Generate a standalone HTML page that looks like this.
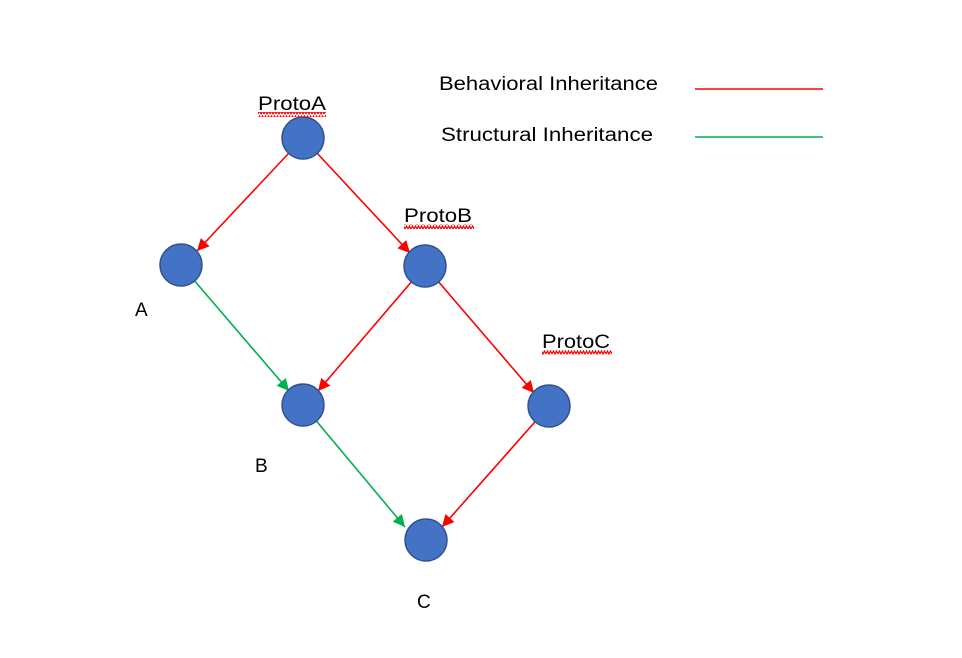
<!DOCTYPE html>
<html><head><meta charset="utf-8"><style>
html,body{margin:0;padding:0;background:#fff;}
svg{display:block}
text{font-family:"Liberation Sans",sans-serif;font-size:19px;fill:#000}
</style></head><body>
<svg width="962" height="658" viewBox="0 0 962 658" xmlns="http://www.w3.org/2000/svg">
<defs>
<marker id="ar" viewBox="0 0 10 10" refX="10" refY="5" markerWidth="13" markerHeight="12" markerUnits="userSpaceOnUse" orient="auto"><path d="M0,0 L10,5 L0,10 z" fill="#FF0000"/></marker>
<marker id="ag" viewBox="0 0 10 10" refX="10" refY="5" markerWidth="13" markerHeight="12" markerUnits="userSpaceOnUse" orient="auto"><path d="M0,0 L10,5 L0,10 z" fill="#00B050"/></marker>
<pattern id="wv" width="6" height="5" patternUnits="userSpaceOnUse"><path d="M0,4 L1.5,1 L3,4 L4.5,1 L6,4" stroke="#FF0000" stroke-width="1.2" fill="none"/></pattern>
</defs>
<g stroke-width="1.6" fill="none">
<line x1="303" y1="138" x2="197" y2="251" stroke="#FF0000" marker-end="url(#ar)"/>
<line x1="303" y1="138" x2="410" y2="253" stroke="#FF0000" marker-end="url(#ar)"/>
<line x1="425" y1="266" x2="318" y2="391" stroke="#FF0000" marker-end="url(#ar)"/>
<line x1="425" y1="266" x2="534" y2="393" stroke="#FF0000" marker-end="url(#ar)"/>
<line x1="549" y1="406" x2="442" y2="527" stroke="#FF0000" marker-end="url(#ar)"/>
<line x1="181" y1="265" x2="289" y2="391" stroke="#00B050" marker-end="url(#ag)"/>
<line x1="303" y1="405" x2="405" y2="527" stroke="#00B050" marker-end="url(#ag)"/>
<line x1="695" y1="89" x2="823" y2="89" stroke="#FF0000"/>
<line x1="695" y1="137" x2="823" y2="137" stroke="#00B050"/>
</g>
<g fill="#4472C4" stroke="#2F528F" stroke-width="1.5">
<circle cx="303" cy="138" r="21"/>
<circle cx="181" cy="265" r="21"/>
<circle cx="425" cy="266" r="21"/>
<circle cx="303" cy="405" r="21"/>
<circle cx="549" cy="406" r="21"/>
<circle cx="426" cy="540" r="21"/>
</g>
<text x="258" y="110" textLength="68" lengthAdjust="spacingAndGlyphs">ProtoA</text>
<rect x="258" y="112" width="68" height="5" fill="url(#wv)"/>
<text x="404" y="222" textLength="68" lengthAdjust="spacingAndGlyphs">ProtoB</text>
<rect x="404" y="224" width="70" height="5" fill="url(#wv)"/>
<text x="542" y="348" textLength="68" lengthAdjust="spacingAndGlyphs">ProtoC</text>
<rect x="542" y="350" width="70" height="5" fill="url(#wv)"/>
<text x="135" y="316">A</text>
<text x="255" y="472">B</text>
<text x="417" y="608">C</text>
<text x="439" y="90" textLength="219" lengthAdjust="spacingAndGlyphs">Behavioral Inheritance</text>
<text x="441" y="141" textLength="212" lengthAdjust="spacingAndGlyphs">Structural Inheritance</text>
</svg>
</body></html>
